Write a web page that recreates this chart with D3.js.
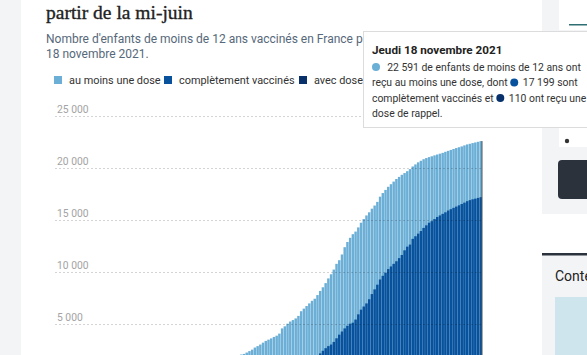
<!DOCTYPE html>
<html><head><meta charset="utf-8">
<script src="https://cdn.jsdelivr.net/npm/d3@7"></script>
<style>
html,body{margin:0;padding:0;background:#fff;overflow:hidden;}
svg{display:block;}
</style></head>
<body>
<svg id="c" width="587" height="355"></svg>
<script>
// ---- Data ----
const startDay = "2021-06-15";
const endDay = "2021-11-18";
const seriesNames = ["au moins une dose", "complètement vaccinés", "avec dose de rappel"];
const seriesColors = ["#6baed6", "#08519c", "#08306b"];
const yTicks = [5000, 10000, 15000, 20000, 25000];

const dose1 = [
 40,75,110,150,190,230,265,300,340,380,
 410,445,480,520,560,590,620,655,690,720,
 750,780,810,840,870,895,920,945,975,1000,
 1025,1050,1075,1100,1125,1150,1170,1190,1215,1240,
 1265,1285,1305,1330,1350,1375,1395,1415,1440,1460,
 1480,1505,1530,1555,1580,1610,1640,1670,1700,1730,
 1760,1795,1830,1870,1910,1950,1990,2040,2090,2150,
 2280,2420,2560,2760,2900,3050,3230,3400,3520,3640,
 3780,3900,4100,4600,4800,5050,5260,5400,5560,5800,
 6250,6500,6750,7000,7250,7450,7800,8200,8550,8950,
 9400,9800,10250,10800,11150,11700,12400,12900,13300,13650,
 13900,14300,14750,15100,15450,15750,16100,16400,16750,17250,
 17600,17900,18200,18450,18700,18950,19150,19350,19520,19700,
 19900,20150,20350,20550,20700,20850,20960,21050,21130,21220,
 21300,21380,21460,21560,21650,21740,21830,21920,22000,22080,
 22180,22270,22330,22400,22460,22520,22591
];
const complet = [
 0,0,0,5,10,15,20,25,30,40,
 50,60,70,80,95,110,125,140,155,170,
 185,200,220,240,260,280,300,320,340,360,
 380,400,420,440,460,485,510,535,560,585,
 610,635,660,690,720,750,775,800,830,860,
 890,920,950,980,1010,1040,1070,1100,1130,1160,
 1190,1215,1240,1265,1290,1315,1340,1365,1390,1415,
 1440,1465,1490,1515,1540,1565,1590,1615,1640,1665,
 1690,1715,1740,1765,1790,1815,1840,1865,1890,1910,
 1930,1950,1965,1980,1995,2010,2030,2200,2450,2700,
 2900,3050,3300,3650,4000,4300,4600,4850,5050,5150,
 5450,5950,6400,6700,7000,7400,7900,8350,8800,9300,
 9650,9950,10300,10550,10800,11050,11350,11650,12100,12450,
 12650,13200,13450,13700,13950,14250,14500,14750,14900,15100,
 15300,15450,15600,15750,15920,16050,16180,16300,16420,16550,
 16680,16820,16920,17000,17060,17130,17199
];
const rappel = [
 0,0,0,0,0,0,0,0,0,0, 0,0,0,0,0,0,0,0,0,0,
 0,0,0,0,0,0,0,0,0,0, 0,0,0,0,0,0,0,0,0,0,
 0,0,0,0,0,0,0,0,0,0, 0,0,0,0,0,0,0,0,0,0,
 0,0,0,0,0,0,0,0,0,0, 0,0,0,0,0,0,0,0,0,0,
 0,0,0,0,0,0,0,0,0,0, 0,0,0,0,0,0,0,0,0,0,
 0,0,0,0,0,0,0,0,0,0, 0,0,0,0,0,0,0,0,0,0,
 1,2,3,4,5,7,9,11,13,15,
 18,21,24,27,30,33,36,40,44,48,
 52,56,60,64,68,72,76,80,84,88,
 92,96,100,103,106,108,110
];

// ---- Setup ----
const parse = d3.timeParse("%Y-%m-%d");
const days = d3.timeDay.range(parse(startDay), d3.timeDay.offset(parse(endDay), 1));
const rows = days.map((d, i) => ({date: d, v: [dose1[i], complet[i], rappel[i]]}));

const svg = d3.select("#c");
const sans = "Roboto, 'Noto Sans', sans-serif";

// page chrome
svg.append("rect").attr("x",0).attr("y",0).attr("width",21).attr("height",355).attr("fill","#f3f4f6");
svg.append("rect").attr("x",542).attr("y",0).attr("width",45).attr("height",214).attr("fill","#f3f4f6");
svg.append("rect").attr("x",559).attr("y",0).attr("width",28).attr("height",30).attr("fill","#fff");
svg.append("rect").attr("x",569).attr("y",24).attr("width",18).attr("height",1.5).attr("fill","#2f6f73");
svg.append("rect").attr("x",559).attr("y",127).attr("width",28).attr("height",20).attr("fill","#fff");
svg.append("circle").attr("cx",567).attr("cy",141).attr("r",2.2).attr("fill","#333");
svg.append("rect").attr("x",558).attr("y",160).attr("width",40).attr("height",39).attr("rx",4).attr("fill","#2b323c");
svg.append("rect").attr("x",542).attr("y",254).attr("width",45).attr("height",101).attr("fill","#f3f4f6");
svg.append("rect").attr("x",542).attr("y",253).attr("width",45).attr("height",2.5).attr("fill","#2b323c");
svg.append("text").attr("x",555).attr("y",281).attr("font-family",sans).attr("font-size",14).attr("fill","#222").text("Contenus sponsorisés");
svg.append("rect").attr("x",555).attr("y",297).attr("width",32).attr("height",58).attr("fill","#cfe5ee");

// title & subtitle
const serif = "'Liberation Serif', 'DejaVu Serif', serif";
svg.append("text").attr("x",46).attr("y",-5).attr("font-family",serif).attr("font-size",19.5).attr("fill","#222")
  .attr("stroke","#222").attr("stroke-width",0.35)
  .text("Une vaccination des moins de 12 ans qui progresse depuis le");
svg.append("text").attr("x",46).attr("y",18.5).attr("font-family",serif).attr("font-size",19.5).attr("fill","#222")
  .attr("stroke","#222").attr("stroke-width",0.35)
  .text("partir de la mi-juin");
const sub = svg.append("text").attr("font-family",sans).attr("font-size",12).attr("fill","#56687a");
sub.append("tspan").attr("x",46).attr("y",43).text("Nombre d'enfants de moins de 12 ans vaccinés en France par jour, jusqu'au");
sub.append("tspan").attr("x",46).attr("y",57.5).text("18 novembre 2021.");

// legend
const legX = [54, 164, 299];
seriesNames.forEach((n, i) => {
  svg.append("rect").attr("x",legX[i]).attr("y",76).attr("width",8).attr("height",8).attr("fill",seriesColors[i]);
  svg.append("text").attr("x",legX[i]+15).attr("y",83.5).attr("font-family",sans).attr("font-size",10.9).attr("fill","#333").text(n);
});

// scales
const x = d3.scaleBand().domain(days).range([55, 482]).paddingInner(0.1).paddingOuter(0);
const y = d3.scaleLinear().domain([0, 25000]).range([376.3, 116]);

const fr = d3.formatLocale({decimal: ",", thousands: "\u00a0", grouping: [3], currency: ["", " €"]});
const fmt = fr.format(",d");

// bars
[0,1,2].forEach(k => {
  svg.append("g").selectAll("rect").data(rows).join("rect")
    .attr("x", d => x(d.date))
    .attr("width", x.bandwidth())
    .attr("y", d => y(d.v[k]))
    .attr("height", d => y(0) - y(d.v[k]))
    .attr("fill", seriesColors[k]);
});

// gridlines (drawn over bars, faint) + tick labels from the y scale
const grid = svg.append("g");
const tk = grid.selectAll("g").data(yTicks).join("g")
  .attr("transform", d => `translate(0,${Math.round(y(d)) + 0.5})`);
tk.append("line").attr("x1",55).attr("x2",482).attr("stroke","#000").attr("stroke-opacity",0.17).attr("stroke-dasharray","2,2");
tk.append("text").attr("x",57).attr("y",-4).attr("font-family",sans).attr("font-size",10.3).attr("fill","#a3a3a3").text(d => fmt(d));

// hover marker on last bar
const last = rows[rows.length-1];
svg.append("line").attr("x1", x(last.date)+x.bandwidth()).attr("x2", x(last.date)+x.bandwidth())
  .attr("y1", y(last.v[0])).attr("y2", 355).attr("stroke","#555").attr("stroke-width",1);

// tooltip
const tt = svg.append("g");
tt.append("rect").attr("x",363.5).attr("y",31.5).attr("width",240).attr("height",96).attr("fill","#fff").attr("stroke","#dcdcdc");
const dateFmt = d3.timeFormatLocale({dateTime:"%A %e %B %Y", date:"%d/%m/%Y", time:"%H:%M:%S", periods:["",""],
  days:["dimanche","lundi","mardi","mercredi","jeudi","vendredi","samedi"],
  shortDays:["dim.","lun.","mar.","mer.","jeu.","ven.","sam."],
  months:["janvier","février","mars","avril","mai","juin","juillet","août","septembre","octobre","novembre","décembre"],
  shortMonths:["janv.","févr.","mars","avr.","mai","juin","juil.","août","sept.","oct.","nov.","déc."]}).format("%A %-d %B %Y");
let dstr = dateFmt(last.date); dstr = dstr.charAt(0).toUpperCase() + dstr.slice(1);
tt.append("text").attr("x",372).attr("y",53.5).attr("font-family",sans).attr("font-size",11.7).attr("font-weight","bold").attr("fill","#222").text(dstr);
const tf = {family: sans, size: 10.4, fill: "#333"};
function line(parts, yy) {
  let cx = 372;
  parts.forEach(p => {
    if (p.dot !== undefined) {
      tt.append("circle").attr("cx", cx + 4).attr("cy", yy - 3.5).attr("r", 4).attr("fill", seriesColors[p.dot]);
      cx += 10;
    } else {
      const t = tt.append("text").attr("x",cx).attr("y",yy).attr("font-family",tf.family).attr("font-size",tf.size).attr("fill",tf.fill).attr("xml:space","preserve").text(p.t);
      cx += t.node().getComputedTextLength();
    }
  });
}
line([{dot:0},{t:"  " + fmt(last.v[0]) + " de enfants de moins de 12 ans ont"}], 70.5);
line([{t:"reçu au moins une dose, dont "},{dot:1},{t:" " + fmt(last.v[1]) + " sont"}], 86);
line([{t:"complètement vaccinés et "},{dot:2},{t:" " + fmt(last.v[2]) + " ont reçu une"}], 101.5);
line([{t:"dose de rappel."}], 117);
</script>
</body></html>
